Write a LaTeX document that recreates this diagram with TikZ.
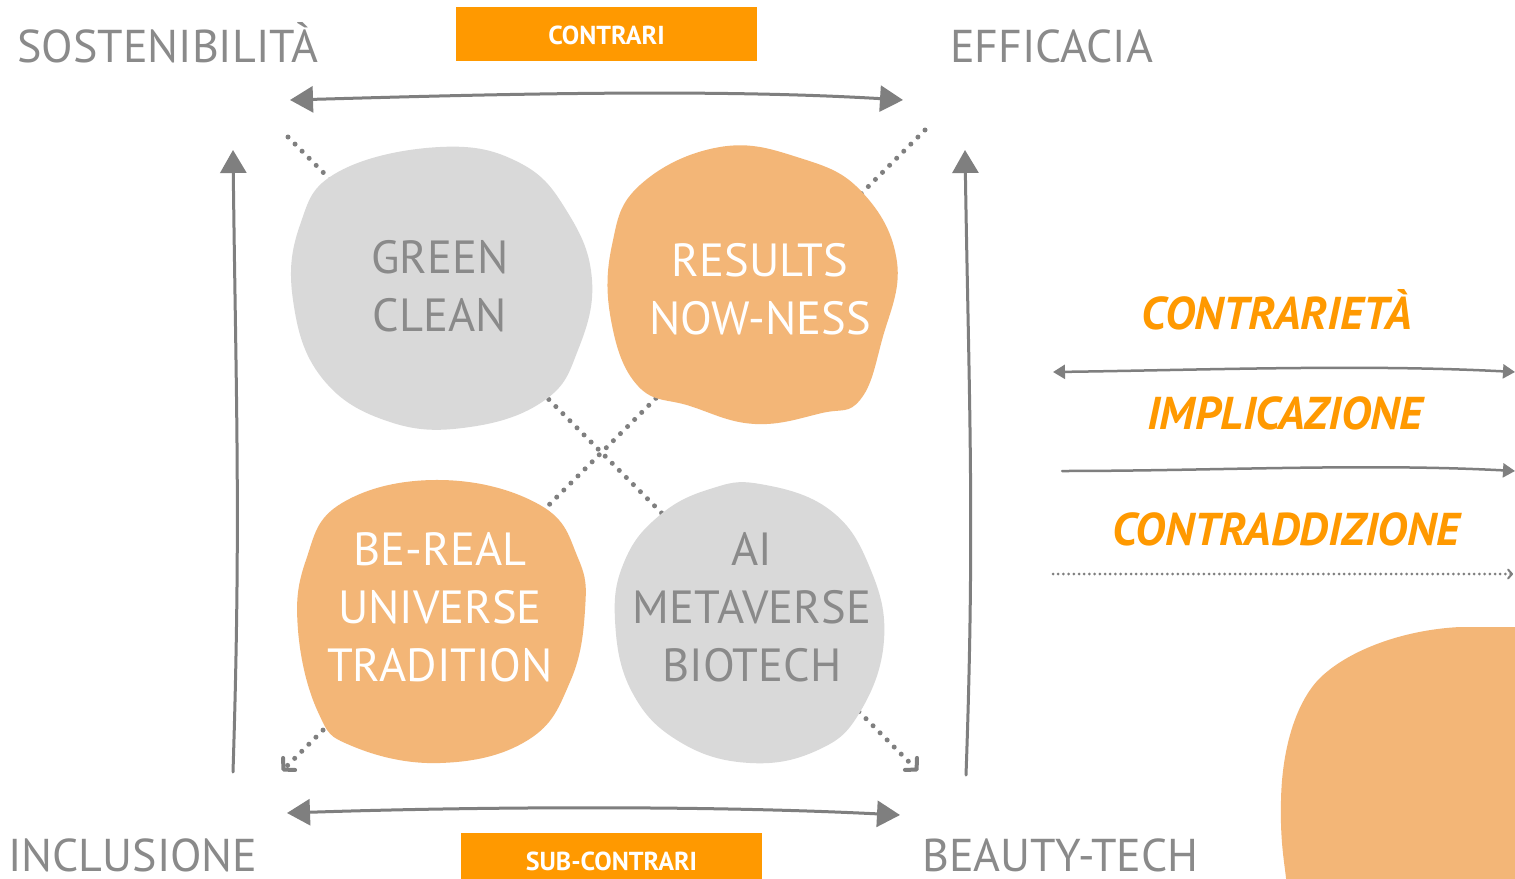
\documentclass[tikz,border=0pt]{standalone}
\usepackage{fontspec}
\setmainfont{PT Sans}
\usetikzlibrary{arrows.meta}
\definecolor{gtext}{HTML}{8A8A8A}
\definecolor{garrow}{HTML}{7F7F7F}
\definecolor{obox}{HTML}{FF9900}
\definecolor{oblob}{HTML}{F3B677}
\definecolor{gblob}{HTML}{D9D9D9}
\tikzset{
  corner/.style={inner sep=0pt, text=gtext, font=\fontsize{46}{56}\selectfont},
  blobtext/.style={inner sep=0pt, align=center, font=\fontsize{46.5}{58}\selectfont},
  tagtext/.style={inner sep=0pt, text=white, font=\fontsize{26}{30}\selectfont\bfseries},
  legtext/.style={inner sep=0pt, text=obox, font=\fontsize{46}{50}\selectfont\bfseries\itshape},
  bigarrow/.style={draw=garrow, line width=3pt, line cap=round},
  bighead/.style={-{Triangle[length=23pt,width=26pt]}},
  bigheads/.style={{Triangle[length=23pt,width=26pt]}-{Triangle[length=23pt,width=26pt]}},
  diag/.style={draw=garrow, line width=5pt, line cap=round, dash pattern=on 0pt off 10pt,
    -{Straight Barb[length=8pt,width=17pt,line width=4pt,round]}},
  legarrow/.style={draw=garrow, line width=2.5pt, line cap=round},
  smallhead/.style={-{Triangle[length=12pt,width=14pt]}},
  smallheads/.style={{Triangle[length=12pt,width=14pt]}-{Triangle[length=12pt,width=14pt]}},
  legdots/.style={draw=garrow, line width=3pt, line cap=round, dash pattern=on 0pt off 5.2pt,
    -{Straight Barb[length=4pt,width=9pt,line width=2pt,round]}},
}
\begin{document}
\begin{tikzpicture}[x=1pt,y=-1pt]
\clip (0,0) rectangle (1515,878);
\fill[white] (0,0) rectangle (1515,878);

% corner labels
\node[corner, anchor=base west] (sost) at (17,62) {SOSTENIBILITÀ};
\node[corner, anchor=base west] (eff) at (950,62) {EFFICACIA};
\node[corner, anchor=base west] (incl) at (8,871) {INCLUSIONE};
\node[corner, anchor=base west] (beauty) at (922,871) {BEAUTY-TECH};

% tags
\fill[obox] (456,7) rectangle (757,61);
\node[tagtext] (contrari) at (606.5,35) {CONTRARI};
\fill[obox] (461,833) rectangle (762,890);
\node[tagtext] (subcontrari) at (611.5,861) {SUB-CONTRARI};

% diagonal dotted arrows (behind blobs)
\coordinate (d1s) at (288,137);
\coordinate (d1e) at (918,771);
\coordinate (d2s) at (925,130);
\coordinate (d2e) at (282,771);
\draw[diag] (d1s) -- (d1e);
\draw[diag] (d2s) -- (d2e);

% blobs
\fill[gblob] plot[smooth cycle, tension=0.7] coordinates {
  (440,147) (520,163) (568,213) (592,280) (578,350) (545,400) (470,427)
  (390,422) (322,378) (293,300) (300,225) (338,172)};
\fill[oblob] plot[smooth cycle, tension=0.7] coordinates {
  (720,147) (800,158) (862,192) (897,262) (882,340) (860,400) (822,413)
  (755,424) (690,406) (638,386) (611,320) (612,245) (640,185)};
\fill[oblob] plot[smooth cycle, tension=0.7] coordinates {
  (440,480) (540,505) (578,558) (585,610) (570,682) (528,740) (440,763)
  (352,746) (318,712) (298,630) (306,560) (342,503)};
\fill[gblob] plot[smooth cycle, tension=0.7] coordinates {
  (760,484) (830,510) (870,568) (884,640) (860,712) (818,750) (750,763)
  (680,742) (632,692) (615,620) (625,560) (660,515) (710,489)};
\fill[oblob] (1560,627) -- (1460,627) .. controls (1400,630) and (1345,652) .. (1318,680)
  .. controls (1295,705) and (1282,750) .. (1281,800)
  .. controls (1280,840) and (1284,860) .. (1286,878) -- (1290,920) -- (1560,920) -- cycle;

% blob texts
\node[blobtext, text=gtext] (green) at (440,286) {GREEN\\CLEAN};
\node[blobtext, text=white] (results) at (760,289) {RESULTS\\NOW-NESS};
\node[blobtext, text=white] (bereal) at (440,607) {BE-REAL\\UNIVERSE\\TRADITION};
\node[blobtext, text=gtext] (ai) at (752,607) {AI\\METAVERSE\\BIOTECH};

% big arrows
\coordinate (ta) at (290,100);
\coordinate (tb) at (903,100);
\draw[bigarrow, bigheads] (ta) .. controls +(180,-5) and +(-200,-12) .. (tb);
\coordinate (ba) at (287,813);
\coordinate (bb) at (900,815);
\draw[bigarrow, bigheads] (ba) .. controls +(180,-6) and +(-200,-10) .. (bb);
\coordinate (la) at (233,772);
\coordinate (lb) at (233,150);
\draw[bigarrow, bighead] (la) .. controls +(8,-250) and +(3,250) .. (lb);
\coordinate (ra) at (966,775);
\coordinate (rb) at (965,150);
\draw[bigarrow, bighead] (ra) .. controls +(9,-250) and +(4,250) .. (rb);

% legend
\node[legtext] (lc) at (1277,310) {CONTRARIETÀ};
\node[legtext, anchor=base] (li) at (1285,429) {IMPLICAZIONE};
\node[legtext, anchor=base] (ld) at (1286,545) {CONTRADDIZIONE};
\coordinate (l1a) at (1053,372);
\coordinate (l1b) at (1515,372);
\draw[legarrow, smallheads] (l1a) .. controls +(150,-2) and +(-150,-8) .. (l1b);
\coordinate (l2a) at (1062,471);
\coordinate (l2b) at (1515,471);
\draw[legarrow, smallhead] (l2a) .. controls +(150,0) and +(-150,-8) .. (l2b);
\coordinate (l3a) at (1053,574);
\coordinate (l3b) at (1513,574);
\draw[legdots] (l3a) -- (l3b);
\end{tikzpicture}
\end{document}
